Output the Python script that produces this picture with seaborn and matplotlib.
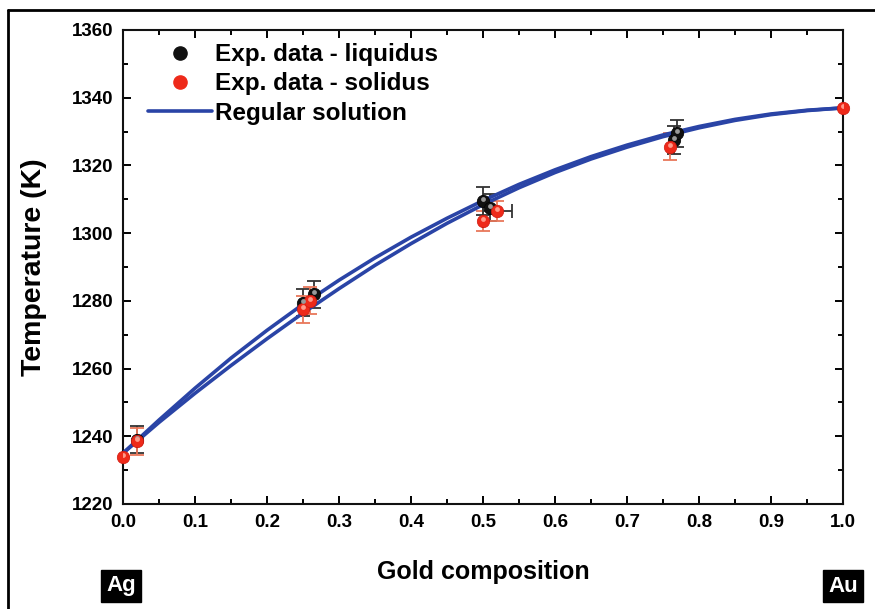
import matplotlib
matplotlib.use("Agg")
import matplotlib.pyplot as plt
import seaborn as sns
import pandas as pd
from matplotlib.lines import Line2D

# ---- data ----
model_x = [0.0, 0.05, 0.10, 0.15, 0.20, 0.25, 0.30, 0.35, 0.40, 0.45, 0.50,
           0.55, 0.60, 0.65, 0.70, 0.75, 0.80, 0.85, 0.90, 0.95, 1.0]
model_liq = [1235.0, 1244.8, 1254.2, 1263.1, 1271.3, 1279.0, 1286.1, 1292.7, 1298.8, 1304.4, 1309.6,
             1314.4, 1318.7, 1322.6, 1326.0, 1329.0, 1331.5, 1333.6, 1335.2, 1336.3, 1337.0]
model_sol = [1235.0, 1244.1, 1252.7, 1260.9, 1268.8, 1276.4, 1283.6, 1290.5, 1296.9, 1302.9, 1308.4,
             1313.4, 1317.9, 1321.9, 1325.4, 1328.5, 1331.1, 1333.3, 1335.0, 1336.2, 1337.0]

liq_x = [0.02, 0.25, 0.265, 0.50, 0.51, 0.765, 0.77]
liq_T = [1239.0, 1279.5, 1282.0, 1309.5, 1307.5, 1327.5, 1329.5]
liq_err = [4, 4, 4, 4, 4, 4, 4]

sol_x = [0.0, 0.02, 0.25, 0.26, 0.50, 0.52, 0.76, 1.0]
sol_T = [1234.0, 1238.5, 1277.5, 1280.0, 1303.5, 1306.5, 1325.5, 1337.0]
sol_err = [0, 4, 4, 4, 3, 3, 4, 0]
sol_xerr = [0, 0, 0, 0, 0, 0.02, 0, 0]

x_ticks = [0.0, 0.1, 0.2, 0.3, 0.4, 0.5, 0.6, 0.7, 0.8, 0.9, 1.0]
y_ticks = [1220, 1240, 1260, 1280, 1300, 1320, 1340, 1360]

legend_labels = ["Exp. data - liquidus", "Exp. data - solidus", "Regular solution"]

# ---- style ----
sns.set_style("ticks")
plt.rcParams['font.family'] = ['Liberation Sans', 'DejaVu Sans']
plt.rcParams['font.weight'] = 'bold'
plt.rcParams['text.color'] = 'black'
plt.rcParams['axes.labelcolor'] = 'black'
plt.rcParams['xtick.color'] = 'black'
plt.rcParams['ytick.color'] = 'black'

fig = plt.figure(figsize=(8.75, 6.09), dpi=100)
ax = fig.add_axes([123/875, 1 - 504/609, (843-123)/875, (504-30)/609])

blue = "#2a44a6"
df_model = pd.DataFrame({"x": model_x + model_x,
                         "T": model_liq + model_sol,
                         "curve": ["liq"] * len(model_x) + ["sol"] * len(model_x)})
sns.lineplot(data=df_model, x="x", y="T", units="curve", estimator=None,
             color=blue, lw=2.6, ax=ax, legend=False, zorder=3)

# error bars
ax.errorbar(liq_x, liq_T, yerr=liq_err, fmt="none", ecolor="#333333",
            elinewidth=1.3, capsize=5, capthick=1.3, zorder=2)
ax.errorbar(sol_x, sol_T, yerr=sol_err, fmt="none", ecolor="#e8775a",
            elinewidth=1.3, capsize=5, capthick=1.3, zorder=2)
ax.errorbar(sol_x, sol_T, xerr=sol_xerr, fmt="none", ecolor="#333333",
            elinewidth=1.3, capsize=5, capthick=1.3, zorder=2)

df_liq = pd.DataFrame({"x": liq_x, "T": liq_T})
df_sol = pd.DataFrame({"x": sol_x, "T": sol_T})
sns.scatterplot(data=df_liq, x="x", y="T", color="#111111", s=80,
                edgecolor="#000000", linewidth=0.5, ax=ax, zorder=4, clip_on=False)
sns.scatterplot(data=df_sol, x="x", y="T", color="#ee2a1a", s=80,
                edgecolor="#d01a10", linewidth=0.5, ax=ax, zorder=4, clip_on=False)
# highlights for the spheres
ax.scatter(liq_x, [t + 0.6 for t in liq_T], s=12, color="#9a9a9a", zorder=5, linewidths=0)
ax.scatter(sol_x, [t + 0.6 for t in sol_T], s=12, color="#ff9a8a", zorder=5, linewidths=0)

ax.set_xlim(0, 1.0)
ax.set_ylim(1220, 1360)
ax.set_xticks(x_ticks)
ax.set_yticks(y_ticks)
ax.set_xticks([0.05 + 0.1 * i for i in range(10)], minor=True)
ax.set_yticks([1230 + 20 * i for i in range(7)], minor=True)
ax.set_xticklabels([f"{v:.1f}" for v in x_ticks])
ax.set_yticklabels([str(v) for v in y_ticks])
ax.tick_params(axis="both", which="major", direction="in", length=6, width=1.4,
               top=True, right=True, labelsize=13.5, pad=7)
ax.tick_params(axis="both", which="minor", direction="in", length=3.5, width=1.4,
               top=True, right=True)
for lab in ax.get_xticklabels() + ax.get_yticklabels():
    lab.set_fontweight("bold")
for sp in ax.spines.values():
    sp.set_linewidth(1.5)
    sp.set_color("#111111")

ax.set_xlabel("Gold composition", fontsize=18, fontweight="bold", labelpad=21)
ax.set_ylabel("Temperature (K)", fontsize=20.5, fontweight="bold", labelpad=18)

handles = [
    Line2D([], [], marker="o", ls="none", color="#111111", markersize=9.5),
    Line2D([], [], marker="o", ls="none", color="#ee2a1a", markersize=9.5),
    Line2D([], [], color=blue, lw=2.6),
]
leg = ax.legend(handles, legend_labels, loc="upper left", bbox_to_anchor=(0.015, 1.003),
                frameon=False, prop={"size": 17.5, "weight": "bold"},
                handlelength=2.6, handletextpad=0.15, labelspacing=0.26, borderaxespad=0.2)

# Ag / Au boxes
for txt, xc in [("Ag", 121), ("Au", 843)]:
    fig.text(xc / 875, 1 - 586 / 609, txt, color="white", fontsize=16, fontweight="bold",
             ha="center", va="center",
             bbox=dict(boxstyle="square,pad=0.25", fc="black", ec="black"))

# outer frame
fig.add_artist(Line2D([8 / 875, 1.0], [1 - 10 / 609, 1 - 10 / 609], color="black", lw=2,
                      transform=fig.transFigure))
fig.add_artist(Line2D([8 / 875, 8 / 875], [0, 1 - 10 / 609], color="black", lw=2,
                      transform=fig.transFigure))

fig.savefig("out.png", dpi=100)
